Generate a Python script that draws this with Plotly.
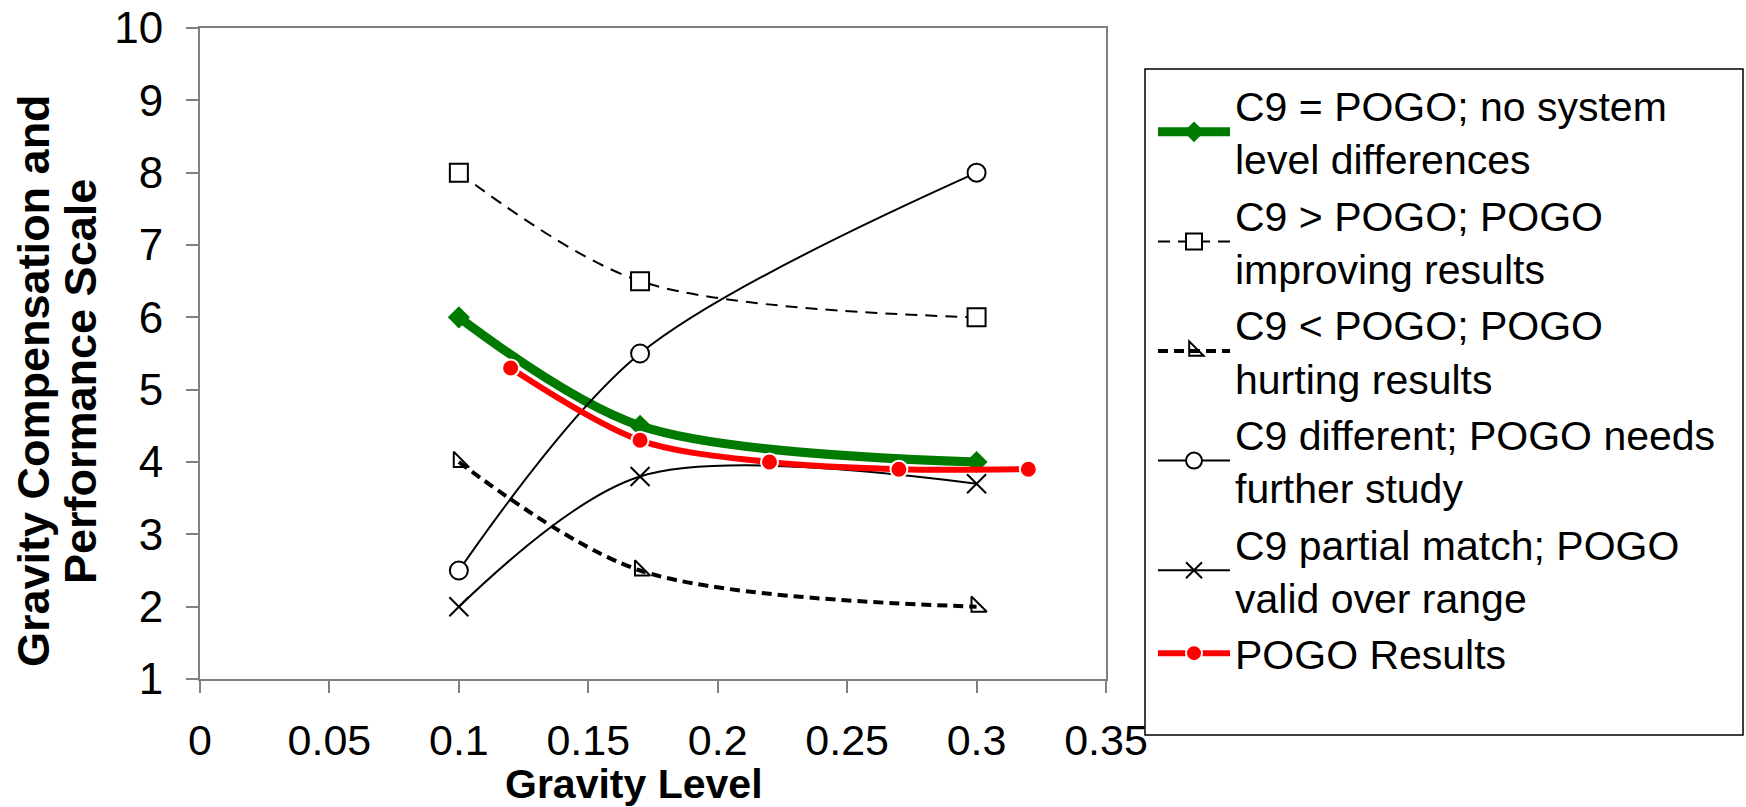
import plotly.graph_objects as go

# ---- data ----
x_c9 = [0.1, 0.17, 0.3]
y_equal = [6.0, 4.5, 4.0]
y_greater = [8.0, 6.5, 6.0]
y_less = [4.0, 2.5, 2.0]
y_different = [2.5, 5.5, 8.0]
y_partial = [2.0, 3.8, 3.7]
x_pogo = [0.12, 0.17, 0.22, 0.27, 0.32]
y_pogo = [5.3, 4.3, 4.0, 3.9, 3.9]

names = [
    "C9 = POGO; no system<br>level differences",
    "C9 > POGO; POGO<br>improving results",
    "C9 < POGO; POGO<br>hurting results",
    "C9 different; POGO needs<br>further study",
    "C9 partial match; POGO<br>valid over range",
    "POGO Results",
]
x_ticks = [0, 0.05, 0.1, 0.15, 0.2, 0.25, 0.3, 0.35]
x_tick_text = ["0", "0.05", "0.1", "0.15", "0.2", "0.25", "0.3", "0.35"]
y_ticks = [1, 2, 3, 4, 5, 6, 7, 8, 9, 10]
x_title = "Gravity Level"
y_title_lines = ["Gravity Compensation and", "Performance Scale"]

FONT = "Liberation Sans, Arial, sans-serif"
W, H = 1746, 807
L, T = 200, 28
R = W - 1106
B = H - 679
pw, ph = W - L - R, H - T - B


def px2x(page_x):
    return (page_x - L) / pw


def px2y(page_y):
    return (H - B - page_y) / ph


fig = go.Figure()

fig.add_trace(go.Scatter(
    x=x_c9, y=y_equal, name=names[0], mode="lines+markers",
    line=dict(color="#007a00", width=9, shape="spline", smoothing=0.9),
    marker=dict(symbol="diamond", size=17, color="#007a00"),
))
fig.add_trace(go.Scatter(
    x=x_c9, y=y_greater, name=names[1], mode="lines+markers",
    line=dict(color="black", width=2, dash="12px,8px", shape="spline", smoothing=0.9),
    marker=dict(symbol="square", size=18, color="white", line=dict(color="black", width=2)),
))
fig.add_trace(go.Scatter(
    x=x_c9, y=y_less, name=names[2], mode="lines+markers",
    line=dict(color="black", width=4, dash="10px,6px", shape="spline", smoothing=0.9),
    marker=dict(symbol="triangle-sw-open", size=17, color="black", line=dict(width=2)),
))
fig.add_trace(go.Scatter(
    x=x_c9, y=y_different, name=names[3], mode="lines+markers",
    line=dict(color="black", width=2, shape="spline", smoothing=0.9),
    marker=dict(symbol="circle", size=18, color="white", line=dict(color="black", width=2)),
))
fig.add_trace(go.Scatter(
    x=x_c9, y=y_partial, name=names[4], mode="lines+markers",
    line=dict(color="black", width=2, shape="spline", smoothing=0.9),
    marker=dict(symbol="x-thin-open", size=19, color="black", line=dict(color="black", width=2)),
))
fig.add_trace(go.Scatter(
    x=x_pogo, y=y_pogo, name=names[5], mode="lines+markers",
    line=dict(color="#ff0000", width=6, shape="spline", smoothing=0.9),
    marker=dict(symbol="circle", size=17, color="#ff0000", line=dict(color="white", width=2)),
))

axis_common = dict(
    showgrid=False, zeroline=False, showline=True, mirror=True,
    linecolor="#808080", linewidth=2,
    ticks="outside", tickcolor="#808080", tickwidth=2,
    ticklabeloverflow="allow",
)

fig.update_xaxes(
    range=[0, 0.35], tickvals=x_ticks, ticktext=x_tick_text,
    ticklen=12, ticklabelstandoff=10,
    tickfont=dict(family=FONT, size=43, color="black"), **axis_common,
)
fig.update_yaxes(
    range=[1, 10], tickvals=y_ticks,
    ticklen=12, ticklabelstandoff=14,
    tickfont=dict(family=FONT, size=44, color="black"), **axis_common,
)

# Legend border box (fixed size like the original)
fig.add_shape(
    type="rect", xref="paper", yref="paper",
    x0=px2x(1145), x1=px2x(1743), y0=px2y(735), y1=px2y(69),
    line=dict(color="black", width=1.5), fillcolor="white", layer="below",
)

fig.add_annotation(
    text="<b>" + x_title + "</b>", xref="paper", yref="paper",
    x=px2x(634), y=px2y(784), xanchor="center", yanchor="middle", showarrow=False,
    font=dict(family=FONT, size=41, color="black"),
)
for line_text, cx in zip(y_title_lines, [33, 80]):
    fig.add_annotation(
        text="<b>" + line_text + "</b>", xref="paper", yref="paper",
        x=px2x(cx), y=px2y(381), xanchor="center", yanchor="middle",
        showarrow=False, textangle=-90,
        font=dict(family=FONT, size=45, color="black"),
    )

fig.update_layout(
    width=W, height=H,
    margin=dict(l=L, r=R, t=T, b=B, autoexpand=False),
    paper_bgcolor="white", plot_bgcolor="white",
    font=dict(family=FONT, color="black"),
    showlegend=True,
    legend=dict(
        x=px2x(1153), y=px2y(72), xanchor="left", yanchor="top",
        bgcolor="rgba(0,0,0,0)", borderwidth=0,
        font=dict(family=FONT, size=41, color="black"),
        itemwidth=72, tracegroupgap=0,
    ),
)

fig.write_html(
    "out.html",
    config={"displayModeBar": False},
    post_script="document.body.style.margin='0';document.documentElement.style.overflow='hidden';",
)
